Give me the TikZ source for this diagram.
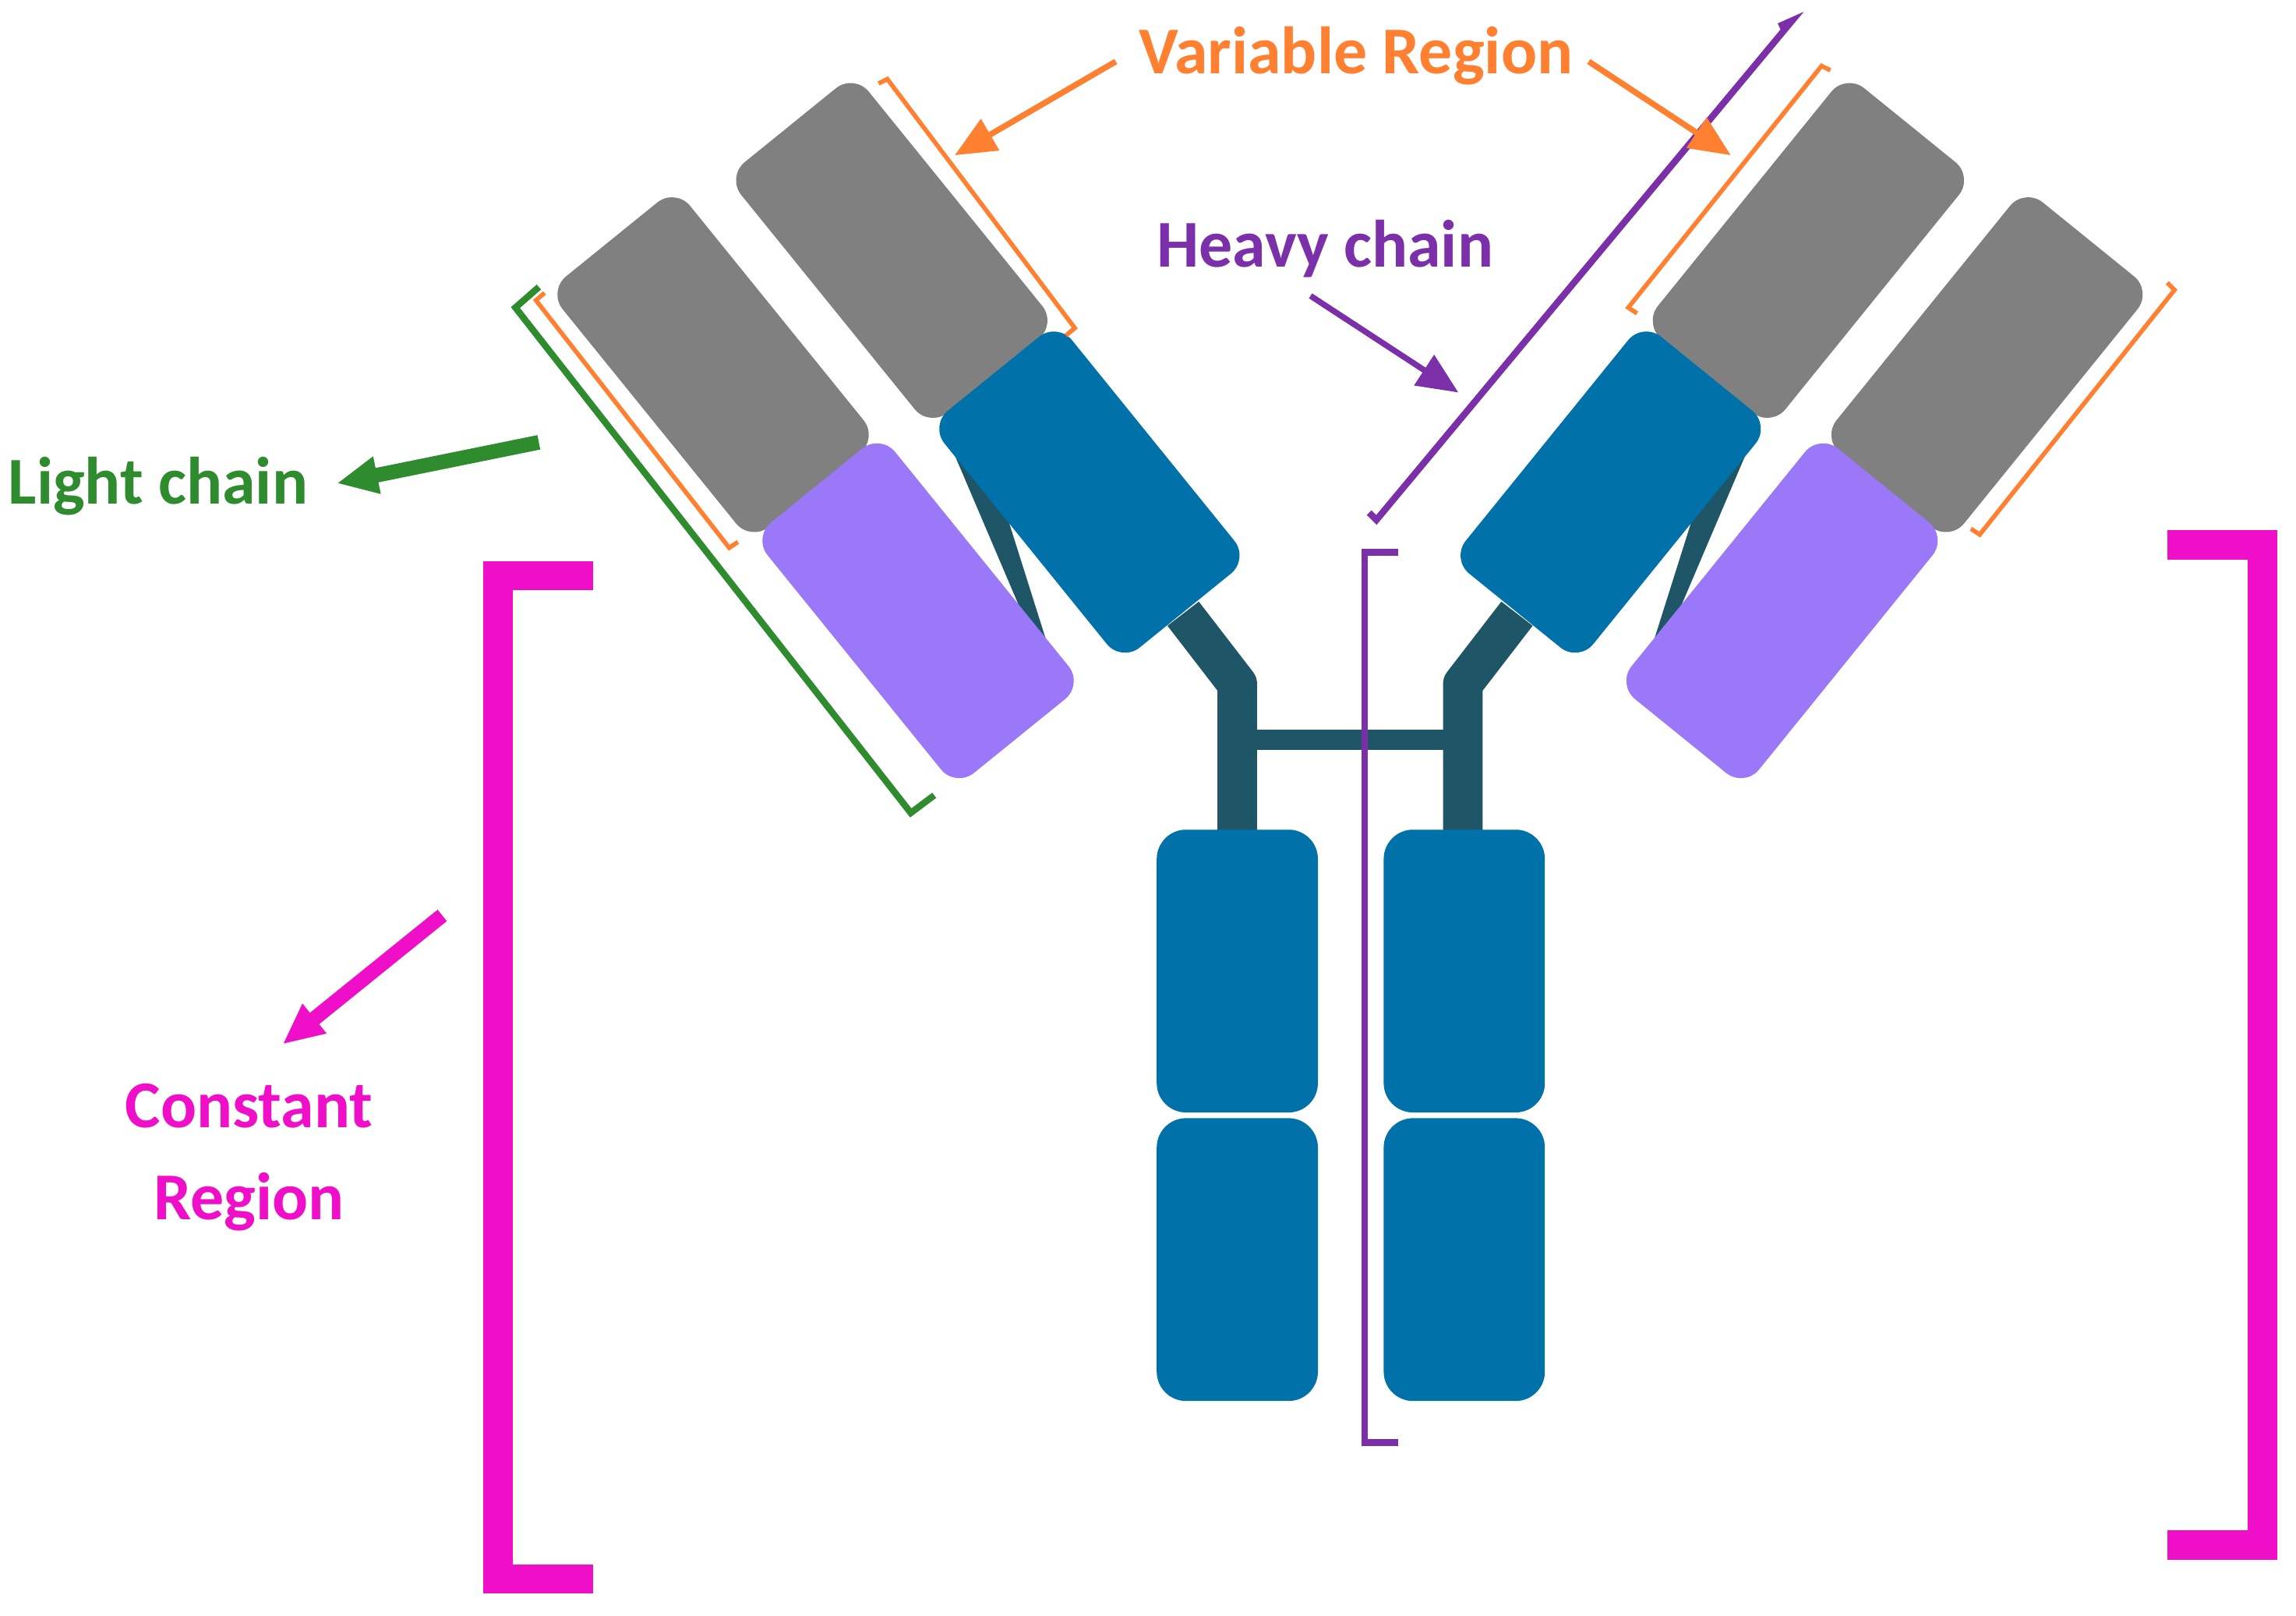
\documentclass[tikz,border=0pt]{standalone}
\usepackage{fontspec}
\setmainfont{Carlito}
\usetikzlibrary{arrows.meta}
\definecolor{gr}{HTML}{808080}
\definecolor{bl}{HTML}{0072A9}
\definecolor{pu}{HTML}{9B78F8}
\definecolor{tl}{HTML}{1E5668}
\definecolor{orr}{HTML}{FF8030}
\definecolor{mg}{HTML}{F00FC8}
\definecolor{gn}{HTML}{2E8B2E}
\definecolor{hv}{HTML}{7B2FA8}
\begin{document}
\begin{tikzpicture}[x=0.01cm,y=-0.01cm,
  dom/.style={rounded corners=0.16cm,minimum width=2.2cm,minimum height=1.12cm,inner sep=0,draw=none},
  low/.style={rounded corners=0.2cm,minimum width=1.1cm,minimum height=1.93cm,inner sep=0,fill=bl},
  lbl/.style={font=\bfseries\fontsize{13}{15}\selectfont,inner sep=0},
  ar/.style={-{Triangle[length=0.28cm,width=0.24cm]}},
  link/.style={tl,line width=0.27cm,line join=round}]
\useasboundingbox (0,0) rectangle (1568,1103);
% hinge
\draw[link] (808,419) -- (845,467) -- (845,570);
\draw[link] (1036,419) -- (999,467) -- (999,570);
\draw[tl,line width=0.14cm] (845,505) -- (999,505);
\fill[tl] (644,292) -- (668,290) -- (716,442) -- (708,442) -- cycle;
\fill[tl] (1200,292) -- (1176,290) -- (1128,442) -- (1136,442) -- cycle;
% left arm
\node[dom,fill=gr,rotate=-51] (gA) at (609,171) {};
\node[dom,fill=gr,rotate=-51] (gB) at (487,249) {};
\node[dom,fill=pu,rotate=-51] (pL) at (627,417) {};
\node[dom,fill=bl,rotate=-51,minimum width=2.08cm] (bL) at (744,336) {};
% right arm
\node[dom,fill=gr,rotate=51] (gC) at (1235,171) {};
\node[dom,fill=gr,rotate=51] (gD) at (1357,249) {};
\node[dom,fill=pu,rotate=51] (pR) at (1217,417) {};
\node[dom,fill=bl,rotate=51,minimum width=2.08cm] (bR) at (1100,336) {};
% lower domains
\node[low] (c1) at (845,663) {};
\node[low] (c2) at (845,860) {};
\node[low] (c3) at (1000,663) {};
\node[low] (c4) at (1000,860) {};
% brackets
\draw[orr,line width=0.03cm] (600,57) -- (606,54) -- (734,224) -- (728,229);
\draw[orr,line width=0.03cm] (372,200) -- (366,205) -- (498,374) -- (504,370);
\draw[gn,line width=0.045cm] (368,196) -- (352,210) -- (622,555) -- (638,543);
\draw[orr,line width=0.03cm] (1250,48) -- (1244,45) -- (1112,210) -- (1118,214);
\draw[orr,line width=0.03cm] (1480,193) -- (1485,198) -- (1352,365) -- (1346,361);
\draw[hv,line width=0.045cm] (1215,18) -- (1224,14) -- (940,355) -- (935,350);
\draw[hv,line width=0.045cm] (955,377) -- (932,377) -- (932,985) -- (955,985);
\draw[mg,line width=0.2cm] (405,393) -- (340,393) -- (340,1078) -- (405,1078);
\draw[mg,line width=0.2cm] (1480,372) -- (1545,372) -- (1545,1055) -- (1480,1055);
% labels
\node[lbl,orr] (vr) at (926,38) {Variable Region};
\node[lbl,hv] (hc) at (905,170) {Heavy chain};
\node[lbl,gn] (lc) at (108,332) {Light chain};
\node[lbl,mg,align=center] (cr) at (170,790) {Constant\\[0.1cm]Region};
\coordinate (o1s) at (762,42); \coordinate (o1e) at (652,106);
\coordinate (o2s) at (1085,42); \coordinate (o2e) at (1182,106);
\coordinate (hs) at (895,202); \coordinate (he) at (996,268);
\coordinate (ls) at (368,302); \coordinate (le) at (230,330);
\coordinate (ms) at (302,625); \coordinate (me) at (193,713);
\draw[orr,line width=0.04cm,ar] (o1s) -- (o1e);
\draw[orr,line width=0.04cm,ar] (o2s) -- (o2e);
\draw[hv,line width=0.04cm,ar] (hs) -- (he);
\draw[gn,line width=0.1cm,ar] (ls) -- (le);
\draw[mg,line width=0.1cm,ar] (ms) -- (me);
\end{tikzpicture}
\end{document}
